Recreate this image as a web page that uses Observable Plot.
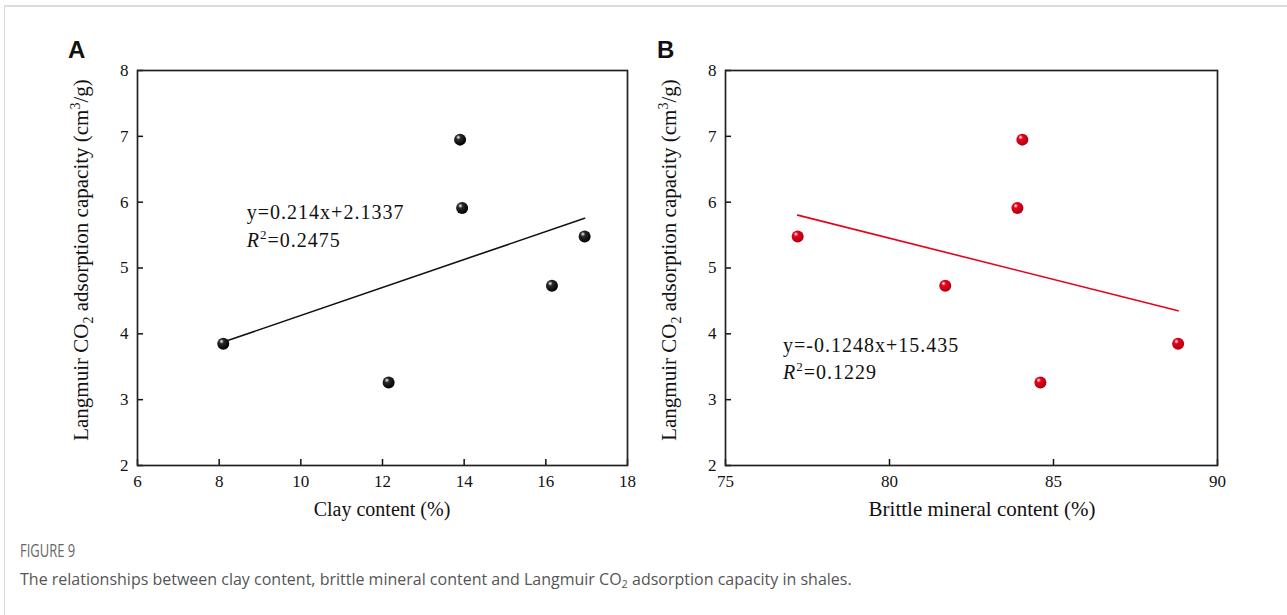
<!DOCTYPE html>
<html>
<head>
<meta charset="utf-8">
<script src="https://cdn.jsdelivr.net/npm/d3@7"></script>
<script src="https://cdn.jsdelivr.net/npm/@observablehq/plot@0.6"></script>
<style>
  html, body { margin: 0; padding: 0; background: #fff; }
  #wrap { position: relative; width: 1287px; height: 615px; overflow: hidden; }
  #border { position: absolute; left: 4px; top: 5px; right: -10px; bottom: -10px;
            border-left: 1.5px solid #dcdcdc; border-top: 2px solid #dcdcdc; }
  .panel { position: absolute; top: 20px; }
  #figlabel { position: absolute; left: 20px; top: 538px; font-family: "Open Sans", "Noto Sans", sans-serif;
              font-size: 18px; color: #666; transform: scaleX(0.72); transform-origin: 0 0; }
  #caption { position: absolute; left: 20px; top: 568px; font-family: "Open Sans", "Noto Sans", sans-serif;
             font-size: 16px; color: #555; white-space: nowrap; }
  #caption sub { font-size: 11px; vertical-align: -3px; line-height: 0; }
</style>
</head>
<body>
<div id="wrap">
  <div id="border"></div>
  <div id="panelA" class="panel" style="left:40px"></div>
  <div id="panelB" class="panel" style="left:640px"></div>
  <div id="figlabel">FIGURE 9</div>
  <div id="caption">The relationships between clay content, brittle mineral content and Langmuir CO<sub>2</sub> adsorption capacity in shales.</div>
</div>
<script>
// ---- data ----
const clayContent = [8.1, 12.15, 13.9, 13.95, 16.15, 16.95];
const capacityA   = [3.85, 3.26, 6.95, 5.91, 4.73, 5.48];
const brittleContent = [77.2, 81.7, 83.9, 84.05, 84.6, 88.8];
const capacityB      = [5.48, 4.73, 5.91, 6.95, 3.26, 3.85];
const xTicksA = [6, 8, 10, 12, 14, 16, 18];
const xTicksB = [75, 80, 85, 90];
const yTicks = [2, 3, 4, 5, 6, 7, 8];
const equationA = "y=0.214x+2.1337";
const r2A = "=0.2475";
const equationB = "y=-0.1248x+15.435";
const r2B = "=0.1229";
const xLabelA = "Clay content (%)";
const xLabelB = "Brittle mineral content (%)";

const serif = "'Liberation Serif', 'Times New Roman', serif";

function panel(opts) {
  const data = opts.xs.map((x, i) => ({x, y: opts.ys[i]}));
  const plot = Plot.plot({
    width: 600, height: 505,
    marginTop: 50, marginBottom: 60,
    marginLeft: opts.ml, marginRight: opts.mr,
    x: {domain: opts.xDomain, label: null},
    y: {domain: [2, 8], label: null},
    style: {fontFamily: serif, fontSize: "17px", color: "#111", background: "transparent", overflow: "visible"},
    marks: [
      Plot.axisX({ticks: opts.xTicks, tickFormat: d3.format("d"), tickSize: -6, tickPadding: 15, fontSize: 17, strokeWidth: 1.5, label: null}),
      Plot.axisY({ticks: yTicks, tickFormat: d3.format("d"), tickSize: -6, tickPadding: 15, fontSize: 17, strokeWidth: 1.5, label: null}),
      Plot.frame({stroke: "#222", strokeWidth: 1.7}),
      Plot.linearRegressionY(data, {x: "x", y: "y", stroke: opts.color, strokeWidth: 1.6, ci: 0}),
      Plot.dot(data, {x: "x", y: "y", r: 6, fill: `url(#${opts.grad})`, stroke: "none"})
    ]
  });
  const svg = d3.select(plot);
  // enforce serif tick labels
  svg.selectAll("text").style("font-size", "17px").style("font-family", serif).style("fill", "#111");
  const defs = svg.insert("defs", ":first-child");
  const g = defs.append("radialGradient").attr("id", opts.grad)
    .attr("cx", "38%").attr("cy", "35%").attr("r", "65%").attr("fx", "35%").attr("fy", "30%");
  g.append("stop").attr("offset", "0%").attr("stop-color", "#ffffff");
  g.append("stop").attr("offset", "30%").attr("stop-color", opts.mid);
  g.append("stop").attr("offset", "100%").attr("stop-color", opts.dark);

  const sx = plot.scale("x"), sy = plot.scale("y");
  // panel letter
  svg.append("text").attr("x", opts.letterX).attr("y", 38).attr("text-anchor", "start")
    .attr("font-family", "'Liberation Sans', Arial, sans-serif").attr("font-weight", "bold")
    .attr("font-size", 24).attr("fill", "#111").text(opts.letter);
  // y label
  const yl = svg.append("text")
    .attr("transform", `translate(${opts.ylx},240) rotate(-90)`)
    .attr("text-anchor", "middle").attr("font-family", serif).attr("font-size", 21).attr("fill", "#111");
  yl.append("tspan").text("Langmuir CO");
  yl.append("tspan").attr("font-size", 14).attr("dy", 5).text("2");
  yl.append("tspan").attr("dy", -5).text(" adsorption capacity (cm");
  yl.append("tspan").attr("font-size", 14).attr("dy", -8).text("3");
  yl.append("tspan").attr("dy", 8).text("/g)");
  // x label
  svg.append("text").attr("x", opts.xlx).attr("y", 496).attr("text-anchor", "middle")
    .attr("font-family", serif).attr("font-size", opts.xlSize).attr("fill", "#111").text(opts.xLabel);
  // equation
  const ex = sx.apply(opts.eqX);
  svg.append("text").attr("x", ex).attr("y", sy.apply(opts.eqY1)).attr("text-anchor", "start")
    .attr("font-family", serif).attr("font-size", 20).attr("letter-spacing", 1).attr("fill", "#111").text(opts.eq);
  const r = svg.append("text").attr("x", ex).attr("y", sy.apply(opts.eqY2)).attr("text-anchor", "start")
    .attr("font-family", serif).attr("font-size", 20).attr("letter-spacing", 1).attr("fill", "#111");
  r.append("tspan").attr("font-style", "italic").text("R");
  r.append("tspan").attr("font-size", 13).attr("dy", -8).text("2");
  r.append("tspan").attr("dy", 8).text(opts.r2);
  document.getElementById(opts.target).appendChild(plot);
}

panel({target: "panelA", xs: clayContent, ys: capacityA, xDomain: [6, 18], xTicks: xTicksA,
  ml: 97, mr: 13, color: "#111", grad: "gA", mid: "#2a2a2a", dark: "#000",
  letter: "A", letterX: 28, ylx: 48, xlx: 342, xlSize: 20, xLabel: xLabelA,
  eq: equationA, r2: r2A, eqX: 8.69, eqY1: 5.74, eqY2: 5.31});

panel({target: "panelB", xs: brittleContent, ys: capacityB, xDomain: [75, 90], xTicks: xTicksB,
  ml: 85, mr: 23, color: "#e8001a", grad: "gB", mid: "#e8001a", dark: "#b00010",
  letter: "B", letterX: 17, ylx: 36, xlx: 342, xlSize: 21, xLabel: xLabelB,
  eq: equationB, r2: r2B, eqX: 76.77, eqY1: 3.72, eqY2: 3.31});
</script>
</body>
</html>
